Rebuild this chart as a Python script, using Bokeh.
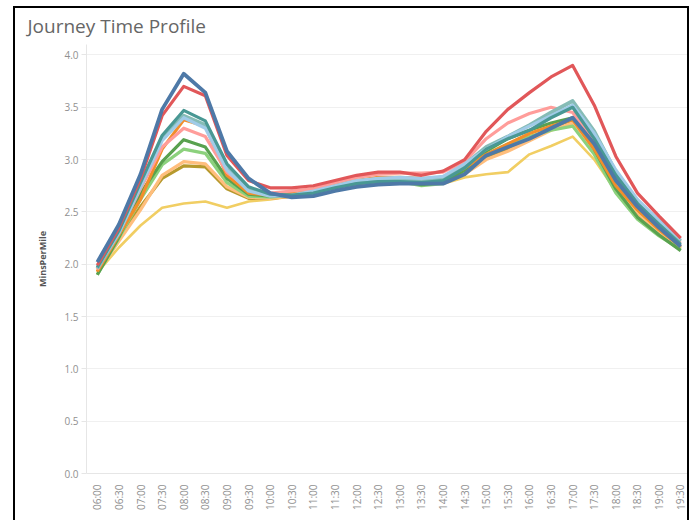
from bokeh.plotting import figure
from bokeh.models import FixedTicker, NumeralTickFormatter, Range1d, FactorRange
from bokeh.embed import file_html
from bokeh.resources import INLINE

times = ["06:00", "06:30", "07:00", "07:30", "08:00", "08:30", "09:00", "09:30",
         "10:00", "10:30", "11:00", "11:30", "12:00", "12:30", "13:00", "13:30",
         "14:00", "14:30", "15:00", "15:30", "16:00", "16:30", "17:00", "17:30",
         "18:00", "18:30", "19:00", "19:30"]

s_yellow = [1.92, 2.16, 2.37, 2.54, 2.58, 2.60, 2.54, 2.60, 2.62, 2.65, 2.69, 2.73, 2.77, 2.79,
            2.79, 2.78, 2.77, 2.83, 2.86, 2.88, 3.05, 3.13, 3.22, 3.00, 2.70, 2.46, 2.30, 2.15]
s_olive = [1.93, 2.24, 2.55, 2.82, 2.94, 2.93, 2.72, 2.63, 2.63, 2.65, 2.69, 2.74, 2.77, 2.79,
           2.79, 2.78, 2.78, 2.87, 3.02, 3.10, 3.20, 3.30, 3.38, 3.10, 2.74, 2.50, 2.32, 2.16]
s_lorange = [1.92, 2.22, 2.52, 2.85, 2.98, 2.96, 2.74, 2.64, 2.63, 2.65, 2.70, 2.75, 2.78, 2.80,
             2.80, 2.79, 2.79, 2.86, 3.00, 3.08, 3.18, 3.28, 3.35, 3.08, 2.72, 2.48, 2.30, 2.15]
s_lgreen = [1.90, 2.25, 2.62, 2.95, 3.10, 3.06, 2.78, 2.65, 2.64, 2.66, 2.70, 2.74, 2.78, 2.79,
            2.79, 2.75, 2.77, 2.88, 3.05, 3.15, 3.22, 3.28, 3.32, 3.05, 2.68, 2.43, 2.27, 2.14]
s_green = [1.90, 2.26, 2.68, 2.98, 3.19, 3.12, 2.82, 2.67, 2.65, 2.66, 2.70, 2.74, 2.78, 2.80,
           2.80, 2.76, 2.78, 2.90, 3.08, 3.20, 3.28, 3.35, 3.40, 3.10, 2.72, 2.45, 2.28, 2.13]
s_orange = [1.93, 2.28, 2.62, 3.10, 3.38, 3.32, 2.85, 2.68, 2.66, 2.68, 2.72, 2.77, 2.80, 2.83,
            2.83, 2.82, 2.82, 2.92, 3.05, 3.15, 3.25, 3.32, 3.38, 3.10, 2.75, 2.52, 2.33, 2.17]
s_pink = [1.95, 2.30, 2.72, 3.12, 3.30, 3.22, 2.88, 2.72, 2.68, 2.70, 2.72, 2.78, 2.83, 2.86,
          2.87, 2.87, 2.88, 2.98, 3.20, 3.35, 3.44, 3.50, 3.45, 3.18, 2.82, 2.56, 2.37, 2.20]
s_lteal = [1.96, 2.30, 2.75, 3.20, 3.42, 3.33, 2.92, 2.72, 2.66, 2.65, 2.68, 2.74, 2.79, 2.81,
           2.81, 2.80, 2.82, 2.95, 3.12, 3.22, 3.33, 3.45, 3.56, 3.27, 2.88, 2.60, 2.40, 2.22]
s_lblue = [1.97, 2.30, 2.74, 3.18, 3.40, 3.30, 2.90, 2.70, 2.65, 2.66, 2.70, 2.75, 2.80, 2.82,
           2.83, 2.82, 2.84, 2.96, 3.10, 3.22, 3.32, 3.42, 3.52, 3.25, 2.90, 2.62, 2.42, 2.24]
s_teal = [1.97, 2.32, 2.78, 3.23, 3.47, 3.37, 2.96, 2.74, 2.67, 2.66, 2.68, 2.73, 2.77, 2.79,
          2.79, 2.78, 2.80, 2.92, 3.10, 3.20, 3.28, 3.40, 3.50, 3.20, 2.85, 2.58, 2.38, 2.19]
s_red = [1.99, 2.35, 2.82, 3.42, 3.70, 3.61, 3.04, 2.80, 2.73, 2.73, 2.75, 2.80, 2.85, 2.88,
         2.88, 2.85, 2.89, 3.00, 3.27, 3.48, 3.64, 3.79, 3.90, 3.52, 3.03, 2.68, 2.46, 2.25]
s_blue = [2.02, 2.38, 2.86, 3.48, 3.82, 3.64, 3.08, 2.82, 2.68, 2.64, 2.65, 2.70, 2.74, 2.76,
          2.77, 2.77, 2.77, 2.86, 3.04, 3.12, 3.20, 3.30, 3.40, 3.15, 2.80, 2.55, 2.35, 2.17]

series = [
    (s_yellow, "#f1ce63", 2.6),
    (s_olive, "#b6992d", 3.2),
    (s_lorange, "#ffbe7d", 3.2),
    (s_lgreen, "#8cd17d", 3.2),
    (s_green, "#59a14f", 3.2),
    (s_orange, "#f28e2b", 3.2),
    (s_pink, "#ff9d9a", 3.2),
    (s_lteal, "#86bcb6", 3.8),
    (s_lblue, "#a0cbe8", 3.2),
    (s_teal, "#499894", 3.2),
    (s_red, "#e15759", 3.2),
    (s_blue, "#4e79a7", 3.8),
]

y_ticks = [0.0, 0.5, 1.0, 1.5, 2.0, 2.5, 3.0, 3.5, 4.0]

p = figure(width=676, height=514, x_range=FactorRange(*times), y_range=Range1d(0, 4.1),
           output_backend="svg", toolbar_location=None,
           min_border_left=71, min_border_right=0, min_border_top=36, min_border_bottom=49,
           styles={"margin-left": "13px", "margin-top": "6px",
                   "border-left": "2px solid black", "border-top": "2px solid black",
                   "border-right": "2px solid black"})
p.x_range.range_padding = 0

for vals, col, w in series:
    p.line(x=times, y=vals, line_color=col, line_width=w, line_join="round")

p.title.text = "Journey Time Profile"
p.title.text_font = "Open Sans"
p.title.text_font_size = "19px"
p.title.text_font_style = "normal"
p.title.text_color = "#666666"
p.title.align = "left"
p.title.vertical_align = "top"
p.title.offset = -59
p.title.standoff = 7

p.outline_line_color = None
p.background_fill_color = "white"
p.border_fill_color = "white"

p.xgrid.grid_line_color = None
p.ygrid.grid_line_color = "#f0f0f0"
p.ygrid.grid_line_width = 1

p.yaxis.ticker = FixedTicker(ticks=y_ticks)
p.yaxis.formatter = NumeralTickFormatter(format="0.0")
p.yaxis.axis_label = "MinsPerMile"
p.yaxis.axis_label_text_font = "Open Sans"
p.yaxis.axis_label_text_font_style = "bold"
p.yaxis.axis_label_text_font_size = "9px"
p.yaxis.axis_label_text_color = "#555555"
p.yaxis.axis_label_standoff = 12
p.yaxis.major_label_text_font = "Open Sans"
p.yaxis.major_label_text_font_size = "10px"
p.yaxis.major_label_text_color = "#909090"
p.yaxis.axis_line_color = "#e6e6e6"
p.yaxis.major_tick_line_color = "#e6e6e6"
p.yaxis.major_tick_in = 0
p.yaxis.major_tick_out = 5
p.yaxis.minor_tick_line_color = None
p.yaxis.major_label_standoff = 3

p.xaxis.major_label_orientation = 1.5708
p.xaxis.major_label_text_font = "Open Sans"
p.xaxis.major_label_text_font_size = "10px"
p.xaxis.major_label_text_color = "#909090"
p.xaxis.axis_line_color = "#e6e6e6"
p.xaxis.major_tick_line_color = None
p.xaxis.major_label_standoff = 5

open("out.html", "w").write(file_html(p, INLINE))
